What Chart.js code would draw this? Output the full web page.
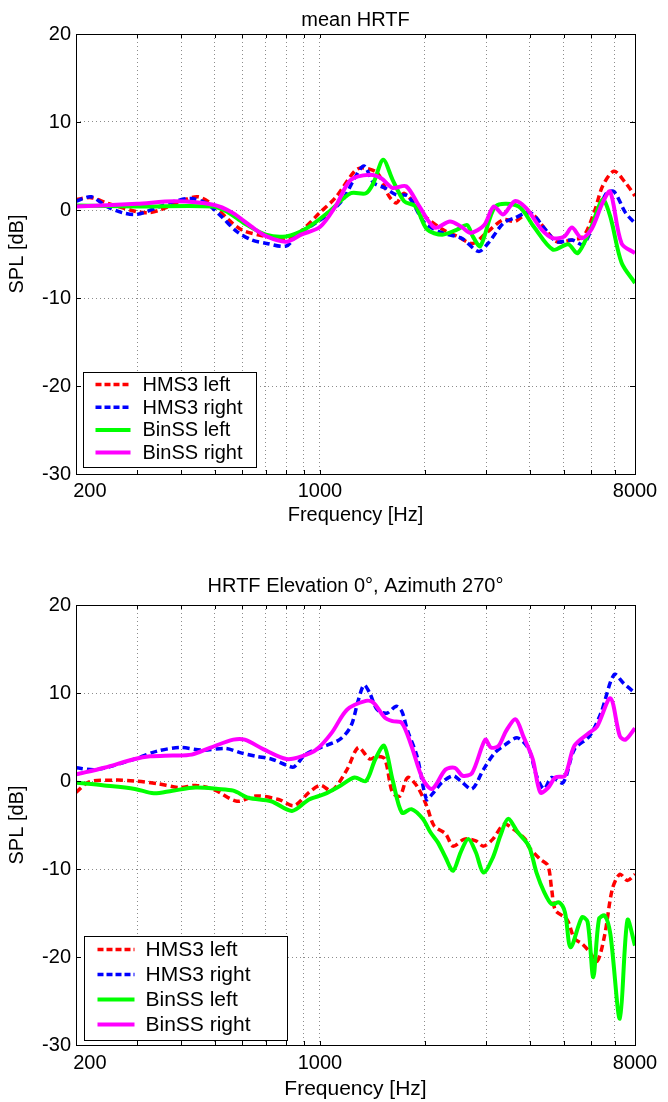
<!DOCTYPE html>
<html>
<head>
<meta charset="utf-8">
<title>HRTF comparison</title>
<script src="https://cdn.jsdelivr.net/npm/chart.js@4.4.0/dist/chart.umd.min.js"></script>
<style>
  html, body { margin: 0; padding: 0; background: #fff; }
  .panel { position: absolute; left: 0; width: 668px; height: 551px; }
  #topPanel { top: 0; }
  #bottomPanel { top: 551px; }
</style>
</head>
<body>
<div class="panel" id="topPanel"><canvas id="meanChart"></canvas></div>
<div class="panel" id="bottomPanel"><canvas id="azimuthChart"></canvas></div>
<script>
// Axis ticks
const freqTicks = [200, 300, 400, 500, 600, 700, 800, 900, 1000, 2000, 3000, 4000, 5000, 6000, 7000, 8000];
const freqLabels = [200, 1000, 8000];
const splTicks = [-30, -20, -10, 0, 10, 20];

const seriesNames = ['HMS3 left', 'HMS3 right', 'BinSS left', 'BinSS right'];

// mean HRTF
const meanHmsLeftFreq = [200, 221, 245, 299, 323, 348, 400, 448, 500, 547, 600, 700, 800, 861, 1000, 1108, 1257, 1321, 1462, 1576, 1658, 1744, 2000, 2243, 2480, 2743, 3000, 3354, 3619, 4000, 4426, 4773, 5280, 5693, 6141, 6457, 6964, 7510, 8000];
const meanHmsLeftSpl = [1.2, 1.4, 0.8, -0.2, -0.3, 0, 1.0, 1.5, 0.4, -1.1, -2.3, -3.0, -3.4, -2.8, -0.3, 1.4, 4.4, 4.8, 4.2, 1.6, 0.8, 1.9, -0.7, -2.2, -3.0, -3.8, -2.6, -1.1, -1.3, -0.3, -2.2, -3.6, -3.4, -3.0, 0, 2.7, 4.4, 3.1, 1.6];

const meanHmsRightFreq = [200, 221, 245, 271, 299, 348, 385, 426, 471, 521, 576, 637, 704, 800, 861, 953, 1054, 1165, 1257, 1338, 1425, 1537, 1658, 1788, 2000, 2243, 2543, 2849, 3033, 3354, 3619, 4000, 4426, 4773, 5280, 5693, 6141, 6622, 6964, 7510, 8000];
const meanHmsRightSpl = [1.0, 1.5, 0.4, -0.3, -0.5, 0.4, 1.0, 1.3, 0.8, -0.7, -2.4, -3.4, -3.8, -4.1, -2.8, -1.7, -0.5, 1.2, 3.6, 5.0, 3.1, 2.5, 1.7, 1.6, -1.5, -2.6, -3.2, -4.7, -3.8, -1.5, -0.9, -0.3, -2.2, -3.6, -3.4, -3.9, -1.1, 1.9, 2.1, -0.3, -1.5];

const meanBinLeftFreq = [200, 299, 495, 547, 606, 700, 800, 906, 1054, 1225, 1355, 1425, 1518, 1617, 1744, 1880, 2028, 2243, 2480, 2641, 2743, 2884, 3190, 3712, 4104, 4654, 5147, 5483, 6000, 6457, 6790, 7322, 8000];
const meanBinLeftSpl = [0.5, 0.4, 0.4, -0.3, -1.5, -2.8, -3.0, -2.2, -0.3, 1.9, 1.9, 3.1, 5.7, 3.4, 1.0, 0.4, -2.2, -2.8, -2.2, -1.7, -3.0, -4.1, 0.4, 0.4, -1.9, -4.5, -3.9, -4.9, -1.9, 1.2, -0.7, -6.0, -8.3];

const meanBinRightFreq = [200, 299, 385, 495, 561, 637, 704, 800, 884, 1002, 1108, 1225, 1390, 1499, 1617, 1766, 1928, 2133, 2358, 2543, 2708, 2958, 3150, 3354, 3619, 3902, 4316, 4654, 5019, 5280, 5622, 6000, 6457, 6790, 7322, 8000];
const meanBinRightSpl = [0.4, 0.7, 1.0, 0.6, -0.3, -1.9, -3.0, -3.6, -2.8, -1.9, 0.4, 3.4, 4.0, 3.6, 2.5, 2.7, 0.4, -2.0, -1.3, -1.9, -2.6, -1.7, 0.4, -0.5, 1.0, 0.2, -2.2, -3.2, -3.0, -2.0, -3.2, -2.2, 0.8, 2.1, -3.8, -4.9];

// HRTF elevation 0, azimuth 270
const azHmsLeftFreq = [200, 218, 260, 295, 342, 398, 440, 498, 579, 656, 762, 843, 931, 1004, 1082, 1196, 1289, 1389, 1460, 1535, 1614, 1697, 1784, 1899, 2022, 2125, 2292, 2408, 2596, 2798, 2942, 3131, 3376, 3594, 3874, 3972, 4282, 4502, 4616, 4733, 5101, 5363, 5637, 5925, 6229, 6549, 6886, 7239, 7610, 8000];
const azHmsLeftSpl = [-1.3, -0.1, 0.1, 0, -0.3, -0.75, -0.5, -1.0, -2.3, -1.7, -2.1, -2.8, -1.3, -0.5, -1.1, 1.3, 3.8, 2.5, 2.8, 2.5, -1.3, -1.7, 0.4, -0.6, -2.8, -5.1, -6.0, -7.4, -6.6, -6.8, -7.4, -6.6, -4.9, -5.5, -6.6, -7.5, -8.9, -9.6, -12.3, -14.7, -15.7, -17.9, -18.5, -19.4, -20.5, -17.5, -12.3, -10.6, -11.3, -10.6];

const azHmsRightFreq = [200, 229, 295, 342, 398, 462, 537, 594, 656, 725, 802, 843, 908, 1004, 1138, 1226, 1289, 1338, 1389, 1460, 1555, 1655, 1718, 1784, 1899, 2022, 2098, 2234, 2408, 2532, 2729, 2942, 3171, 3418, 3686, 3972, 4176, 4390, 4616, 4976, 5363, 5925, 6387, 6972, 7422, 8000];
const azHmsRightSpl = [1.5, 1.3, 2.5, 3.4, 3.8, 3.5, 3.7, 3.2, 2.8, 2.5, 1.8, 1.6, 3.0, 3.8, 4.7, 6.2, 9.2, 10.9, 10.0, 8.1, 7.7, 8.5, 7.9, 5.7, 2.8, -2.1, -1.5, -0.2, 0.6, 0, -0.9, 1.3, 3.2, 4.2, 4.9, 3.6, 0.6, -0.9, 0.4, -0.2, 3.6, 5.1, 7.7, 12.1, 11.1, 10.0];

const azBinLeftFreq = [200, 241, 295, 334, 378, 440, 511, 565, 624, 725, 832, 931, 1029, 1138, 1257, 1355, 1442, 1528, 1614, 1718, 1829, 1972, 2072, 2180, 2292, 2408, 2532, 2662, 2798, 2942, 3131, 3292, 3461, 3686, 3972, 4176, 4390, 4616, 4853, 5038, 5231, 5637, 5851, 6075, 6308, 6549, 6800, 7239, 7610, 8000];
const azBinLeftSpl = [-0.2, -0.5, -0.9, -1.4, -1.1, -0.75, -0.9, -1.1, -1.9, -2.3, -3.4, -2.1, -1.5, -0.6, 0.4, 0, 2.5, 4.0, 0.2, -3.6, -3.2, -4.3, -5.8, -7.0, -8.7, -10.2, -8.1, -6.6, -8.1, -10.4, -8.7, -6.2, -4.3, -5.8, -7.4, -10.4, -12.6, -14.0, -13.8, -14.9, -18.9, -15.5, -16.0, -22.3, -15.7, -15.3, -17.4, -27.0, -15.8, -18.7];

const azBinRightFreq = [200, 241, 295, 326, 378, 429, 486, 565, 609, 690, 802, 886, 979, 1082, 1196, 1355, 1424, 1535, 1614, 1718, 1829, 1972, 2098, 2292, 2438, 2564, 2729, 2978, 3092, 3251, 3418, 3639, 3826, 4073, 4282, 4502, 4733, 5038, 5363, 5925, 6229, 6800, 7239, 7516, 8000];
const azBinRightSpl = [0.75, 1.5, 2.5, 2.8, 2.9, 3.0, 3.8, 4.7, 4.7, 3.6, 2.5, 2.8, 3.6, 5.5, 8.1, 9.1, 8.9, 7.2, 6.8, 6.6, 4.0, 0.2, -0.9, 1.3, 1.5, 0.6, 0.9, 4.7, 3.8, 4.0, 5.7, 7.0, 5.1, 2.5, -1.3, -0.8, 0.4, 0.6, 4.0, 5.5, 6.2, 9.4, 5.1, 4.7, 6.0];

// Line styles (same order as seriesNames)
const lineStyles = [
    { color: '#ff0000', dash: [7, 4], width: 3.5 },
    { color: '#0000ff', dash: [7, 4], width: 3.5 },
    { color: '#00ff00', dash: [], width: 4 },
    { color: '#ff00ff', dash: [], width: 4 }
];

const FONT = 'Arial, "Liberation Sans", sans-serif';
Chart.defaults.font.family = FONT;
Chart.defaults.font.size = 20;
Chart.defaults.color = '#000';

function toPoints(freq, spl) {
    return freq.map((f, i) => ({ x: f, y: spl[i] }));
}

// first label sits right of the axis like in matlab, the others are centred
function freqLabel(v) {
    if (!freqLabels.includes(v)) return '';
    return v === freqLabels[0] ? '     ' + v : String(v);
}

// Draws the Matlab style box, inward ticks and the legend in the lower left corner
const matlabAxes = {
    id: 'matlabAxes',
    afterDatasetsDraw(chart, args, opts) {
        const { ctx, chartArea: a, scales } = chart;
        ctx.save();
        ctx.strokeStyle = '#000';
        ctx.lineWidth = 1;
        ctx.setLineDash([]);
        ctx.beginPath();
        freqTicks.forEach(f => {
            const x = Math.round(scales.x.getPixelForValue(f)) + 0.5;
            ctx.moveTo(x, a.top); ctx.lineTo(x, a.top + 4);
            ctx.moveTo(x, a.bottom); ctx.lineTo(x, a.bottom - 4);
        });
        splTicks.forEach(v => {
            const y = Math.round(scales.y.getPixelForValue(v)) + 0.5;
            ctx.moveTo(a.left, y); ctx.lineTo(a.left + 5, y);
            ctx.moveTo(a.right, y); ctx.lineTo(a.right - 5, y);
        });
        ctx.stroke();
        ctx.strokeRect(Math.round(a.left) + 0.5, Math.round(a.top) + 0.5,
            Math.round(a.right - a.left), Math.round(a.bottom - a.top));

        // legend
        const lg = opts.legend;
        const bx = Math.round(a.left + lg.dx) + 0.5;
        const by = Math.round(a.bottom - lg.dy - lg.h) + 0.5;
        ctx.fillStyle = '#fff';
        ctx.fillRect(bx, by, lg.w, lg.h);
        ctx.strokeStyle = '#000';
        ctx.lineWidth = 1;
        ctx.strokeRect(bx, by, lg.w, lg.h);
        ctx.font = lg.fontSize + 'px ' + FONT;
        ctx.textBaseline = 'middle';
        ctx.textAlign = 'left';
        chart.data.datasets.forEach((ds, i) => {
            const y = by + lg.row0 + i * lg.rowStep;
            ctx.beginPath();
            ctx.strokeStyle = ds.borderColor;
            ctx.lineWidth = ds.borderWidth;
            ctx.setLineDash(ds.borderDash.length ? [6, 3] : []);
            ctx.moveTo(bx + lg.sample[0], y);
            ctx.lineTo(bx + lg.sample[1], y);
            ctx.stroke();
            ctx.setLineDash([]);
            ctx.fillStyle = '#000';
            ctx.fillText(ds.label, bx + lg.textX, y + 1);
        });
        ctx.restore();
    }
};

function makeChart(canvasId, titleText, series, layout) {
    const datasets = series.map((s, i) => ({
        label: seriesNames[i],
        data: toPoints(s[0], s[1]),
        borderColor: lineStyles[i].color,
        borderDash: lineStyles[i].dash,
        borderWidth: lineStyles[i].width,
        pointRadius: 0,
        tension: 0.3,
        fill: false,
        order: series.length - 1 - i
    }));

    return new Chart(document.getElementById(canvasId), {
        type: 'line',
        data: { datasets },
        options: {
            responsive: true,
            maintainAspectRatio: false,
            animation: false,
            layout: { padding: { left: 0, right: 33, top: 0, bottom: 0 } },
            scales: {
                x: {
                    type: 'logarithmic',
                    min: 200,
                    max: 8000,
                    afterBuildTicks: scale => { scale.ticks = freqTicks.map(v => ({ value: v })); },
                    afterFit: scale => { scale.height = layout.xHeight; },
                    ticks: {
                        autoSkip: false,
                        maxRotation: 0,
                        padding: layout.xTickPad,
                        callback: freqLabel
                    },
                    grid: { color: '#8c8c8c', lineWidth: 1, drawTicks: false },
                    border: { display: false, dash: [1, 3] },
                    title: {
                        display: true,
                        text: 'Frequency [Hz]',
                        font: { size: layout.xTitleSize },
                        padding: { top: 0, bottom: layout.xTitlePad }
                    }
                },
                y: {
                    type: 'linear',
                    min: -30,
                    max: 20,
                    afterBuildTicks: scale => { scale.ticks = splTicks.map(v => ({ value: v })); },
                    afterFit: scale => { scale.width = 76; },
                    ticks: { padding: 5 },
                    grid: { color: '#8c8c8c', lineWidth: 1, drawTicks: false },
                    border: { display: false, dash: [1, 3] },
                    title: {
                        display: true,
                        text: 'SPL [dB]',
                        padding: { top: 5.5, bottom: 0 }
                    }
                }
            },
            plugins: {
                legend: { display: false },
                tooltip: { enabled: false },
                title: {
                    display: true,
                    text: titleText,
                    fullSize: false,
                    color: '#000',
                    font: { size: 20, weight: 'normal' },
                    padding: { top: layout.titleTop, bottom: layout.titleBottom }
                },
                matlabAxes: { legend: layout.legend }
            }
        },
        plugins: [matlabAxes]
    });
}

makeChart('meanChart', 'mean HRTF', [
    [meanHmsLeftFreq, meanHmsLeftSpl],
    [meanHmsRightFreq, meanHmsRightSpl],
    [meanBinLeftFreq, meanBinLeftSpl],
    [meanBinRightFreq, meanBinRightSpl]
], {
    xHeight: 77, xTickPad: 5, xTitleSize: 20, xTitlePad: 24, titleTop: 8, titleBottom: 2,
    legend: { dx: 6.5, dy: 7.5, w: 173, h: 95, row0: 12, rowStep: 22.7, sample: [12, 47], textX: 59, fontSize: 20 }
});

makeChart('azimuthChart', 'HRTF Elevation 0°, Azimuth 270°', [
    [azHmsLeftFreq, azHmsLeftSpl],
    [azHmsRightFreq, azHmsRightSpl],
    [azBinLeftFreq, azBinLeftSpl],
    [azBinRightFreq, azBinRightSpl]
], {
    xHeight: 57, xTickPad: 6, xTitleSize: 21, xTitlePad: 0, titleTop: 23, titleBottom: 7,
    legend: { dx: 8, dy: 5, w: 203, h: 104, row0: 13, rowStep: 25, sample: [13, 50], textX: 61, fontSize: 21 }
});
</script>
</body>
</html>
